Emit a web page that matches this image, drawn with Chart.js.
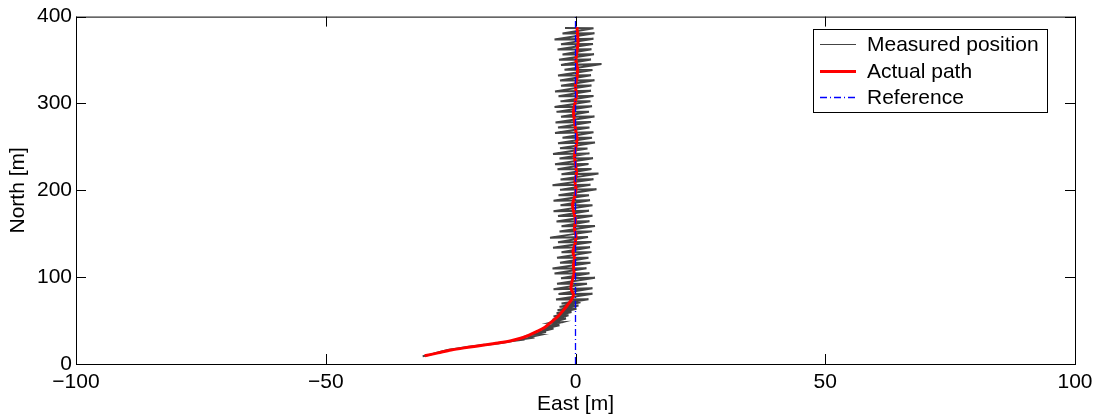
<!DOCTYPE html>
<html>
<head>
<meta charset="utf-8">
<title>Measured position vs actual path</title>
<script src="https://cdn.jsdelivr.net/npm/chart.js@4/dist/chart.umd.min.js"></script>
<style>
    body { margin: 0; background: #fff; }
    #wrap { width: 1099px; height: 419px; }
</style>
</head>
<body>
<div id="wrap"><canvas id="pathChart" width="1099" height="419"></canvas></div>
<script>
// =============================================
// DATA (east / north in metres)
// =============================================
const xTicks = [-100, -50, 0, 50, 100];
const yTicks = [0, 100, 200, 300, 400];
const seriesNames = ["Measured position", "Actual path", "Reference"];

const measEast = [
    -30.6, -29.4, -27.9, -25.6, -22.0, -18.6, -15.2, -12.6, -10.2, -11.4,
    -8.2, -9.6, -7.0, -8.6, -5.9, -7.6, -4.4, -6.8, -3.2, -5.6,
    -2.6, -5.0, -1.9, -4.6, -1.4, -4.4, -0.8, -3.8, 0.2, -3.6,
    0.6, -3.2, 1.0, -2.8,
    2.6, -3.9, 3.4, -3.4, 3.4, -4.4, 2.3, -3.7, 3.9, -2.9,
    2.8, -4.2, 2.2, -4.6, 3.0, -3.1, 2.6, -3.7, 3.2, -2.8,
    2.9, -4.5, 3.2, -3.5, 2.5, -5.1, 3.3, -3.2, 3.9, -2.8,
    2.8, -3.8, 3.4, -3.5, 2.7, -4.4, 3.4, -3.0, 2.9, -4.4,
    2.7, -3.4, 4.2, -3.1, 3.0, -4.6, 3.6, -3.0, 4.6, -2.8,
    3.2, -3.6, 2.6, -4.1, 3.5, -3.2, 2.8, -4.5, 2.4, -3.1,
    3.9, -3.5, 3.3, -2.6, 3.6, -4.1, 2.8, -3.5, 3.1, -4.0,
    3.8, -2.9, 2.7, -3.8, 3.3, -4.2, 3.0, -3.0, 3.6, -3.4,
    3.1, -4.1, 3.2, -2.9, 3.8, -3.1, 3.1, -3.5, 3.4, -2.2,
    5.2, -2.9, 3.1, -3.3, 3.7, -2.6, 3.2, -3.6, 3.5, -2.9,
    3.6, -4.2, 3.8, -2.6, 3.6, -2.1
];
const measNorth = [
    9.0, 10.2, 12.8, 16.0, 19.4, 21.8, 24.0, 26.4, 28.3, 28.0,
    30.6, 30.4, 33.6, 33.8, 36.8, 36.2, 40.8, 40.0, 44.6, 43.4,
    48.2, 47.6, 52.4, 51.0, 56.2, 54.6, 59.8, 58.4, 63.6, 62.0,
    67.4, 65.8, 71.2, 69.6,
    74.5, 74.3, 80.9, 80.6, 87.1, 86.2, 92.5, 92.5, 99.3, 98.8,
    104.6, 104.1, 110.3, 109.9, 116.7, 116.6, 122.4, 122.3, 128.8, 128.7,
    134.5, 133.8, 140.6, 140.2, 146.2, 145.5, 152.7, 152.5, 159.0, 158.6,
    164.4, 164.1, 170.8, 170.4, 176.5, 176.0, 182.9, 182.7, 188.6, 187.9,
    194.4, 194.3, 201.1, 200.5, 206.5, 205.7, 212.7, 212.4, 219.2, 218.6,
    224.6, 224.2, 230.3, 230.0, 236.8, 236.5, 242.5, 241.8, 248.2, 248.4,
    254.9, 254.2, 260.5, 260.6, 266.7, 265.9, 272.4, 272.3, 278.6, 278.1,
    285.0, 284.7, 290.5, 290.3, 296.8, 296.0, 302.4, 302.4, 308.7, 308.2,
    314.5, 313.9, 320.6, 320.5, 326.8, 326.3, 332.4, 332.1, 338.5, 338.7,
    345.4, 344.4, 350.5, 350.2, 356.7, 356.5, 362.4, 362.0, 368.5, 368.3,
    374.6, 373.7, 380.7, 380.5, 386.6, 386.8
];

const actualEast = [
    -30.2, -27.5, -24.9, -21.5, -18.3, -15.5, -12.9, -11.0, -9.5, -7.8,
    -6.2, -4.8, -3.5, -2.4, -1.5, -0.8, -0.4, -0.9, -0.7, -0.3,
    -0.4, -0.2, -0.5, -0.1, 0.1, -0.2, 0.0, -0.3, -0.6, -0.2,
    0.1, -0.1, 0.2, 0.0, -0.2, 0.1, 0.3, 0.0, -0.2, -0.4,
    -0.1, 0.2, 0.0, 0.3, 0.4, 0.1, 0.3, 0.5, 0.4, 0.3
];
const actualNorth = [
    9.4, 12.8, 16.2, 19.2, 21.8, 24.2, 26.8, 29.6, 32.8, 37.2,
    42.0, 48.5, 55.0, 62.0, 68.6, 74.0, 80.0, 87.0, 95.0, 104.0,
    114.0, 122.0, 129.0, 138.0, 147.0, 156.0, 165.0, 174.0, 183.0, 192.0,
    201.0, 210.0, 220.0, 230.0, 240.0, 250.0, 260.0, 270.0, 280.0, 290.0,
    300.0, 310.0, 320.0, 330.0, 340.0, 350.0, 360.0, 370.0, 380.0, 388.0
];

const refEast = [0, 0];
const refNorth = [0, 400];

// =============================================
// HELPERS
// =============================================
const FONT = "'Liberation Sans', Arial, sans-serif";

function toPoints(xs, ys) {
    return xs.map((x, i) => ({ x: x, y: ys[i] }));
}

function fmtTick(v) {
    return v < 0 ? "\u2212" + Math.abs(v) : String(v);
}

// box, inward tick marks, legend inside the axes
const matlabAxes = {
    id: "matlabAxes",
    afterDraw(chart) {
        const ctx = chart.ctx;
        const a = chart.chartArea;
        const xs = chart.scales.x;
        const ys = chart.scales.y;
        const len = 10;

        ctx.save();
        ctx.strokeStyle = "#000";
        ctx.lineWidth = 1;
        ctx.strokeRect(a.left + 0.5, a.top + 0.5, a.right - a.left, a.bottom - a.top);

        ctx.beginPath();
        xTicks.forEach(v => {
            const px = Math.round(xs.getPixelForValue(v)) + 0.5;
            ctx.moveTo(px, a.bottom); ctx.lineTo(px, a.bottom - len);
            ctx.moveTo(px, a.top); ctx.lineTo(px, a.top + len);
        });
        yTicks.forEach(v => {
            const py = Math.round(ys.getPixelForValue(v)) + 0.5;
            ctx.moveTo(a.left, py); ctx.lineTo(a.left + len, py);
            ctx.moveTo(a.right, py); ctx.lineTo(a.right - len, py);
        });
        ctx.stroke();

        // legend
        const bx = 813, by = 29, bw = 234, bh = 83;
        ctx.fillStyle = "#fff";
        ctx.fillRect(bx, by, bw, bh);
        ctx.strokeRect(bx + 0.5, by + 0.5, bw, bh);
        ctx.font = "21px " + FONT;
        ctx.textBaseline = "middle";
        chart.data.datasets.forEach((ds, i) => {
            const ry = Math.round(by + 15 + i * 26.7) + 0.5;
            ctx.beginPath();
            ctx.strokeStyle = ds.borderColor;
            ctx.lineWidth = ds.legendWidth;
            ctx.setLineDash(ds.borderDash || []);
            ctx.moveTo(820, ry);
            ctx.lineTo(856, ry);
            ctx.stroke();
            ctx.setLineDash([]);
            ctx.fillStyle = "#000";
            ctx.fillText(ds.label, 867, ry + 1);
        });
        ctx.restore();
    }
};

// =============================================
// CHART
// =============================================
new Chart(document.getElementById("pathChart"), {
    type: "scatter",
    data: {
        datasets: [
            {
                label: seriesNames[0],
                data: toPoints(measEast, measNorth),
                showLine: true,
                borderColor: "#444444",
                borderWidth: 2,
                legendWidth: 1,
                pointRadius: 0,
                order: 3
            },
            {
                label: seriesNames[1],
                data: toPoints(actualEast, actualNorth),
                showLine: true,
                borderColor: "#ff0000",
                borderWidth: 3,
                legendWidth: 3,
                tension: 0.3,
                pointRadius: 0,
                order: 2
            },
            {
                label: seriesNames[2],
                data: toPoints(refEast, refNorth),
                showLine: true,
                borderColor: "rgb(0, 0, 255)",
                borderWidth: 1.3,
                legendWidth: 1.3,
                borderDash: [7, 3, 1, 3],
                pointRadius: 0,
                order: 1
            }
        ]
    },
    options: {
        responsive: false,
        animation: false,
        layout: { padding: { top: 10, right: 24, left: 0, bottom: 0 } },
        plugins: {
            legend: { display: false },
            tooltip: { enabled: false }
        },
        scales: {
            x: {
                type: "linear",
                min: -100,
                max: 100,
                afterBuildTicks: s => { s.ticks = xTicks.map(v => ({ value: v })); },
                afterFit: s => { s.height = 55; },
                grid: { display: false, drawTicks: false },
                border: { display: false },
                ticks: {
                    padding: 6,
                    color: "#000",
                    font: { family: FONT, size: 21 },
                    maxRotation: 0,
                    callback: v => fmtTick(v)
                },
                title: {
                    display: true,
                    text: "East [m]",
                    color: "#000",
                    font: { family: FONT, size: 21 },
                    padding: { top: 0, bottom: 2 }
                }
            },
            y: {
                type: "linear",
                min: 0,
                max: 400,
                afterBuildTicks: s => { s.ticks = yTicks.map(v => ({ value: v })); },
                afterFit: s => { s.width = 76; },
                grid: { display: false, drawTicks: false },
                border: { display: false },
                ticks: {
                    padding: 4,
                    color: "#000",
                    font: { family: FONT, size: 21 },
                    callback: v => fmtTick(v)
                },
                title: {
                    display: true,
                    text: "North [m]",
                    color: "#000",
                    font: { family: FONT, size: 21 },
                    padding: { top: 6, bottom: 0 }
                }
            }
        }
    },
    plugins: [matlabAxes]
});
</script>
</body>
</html>
